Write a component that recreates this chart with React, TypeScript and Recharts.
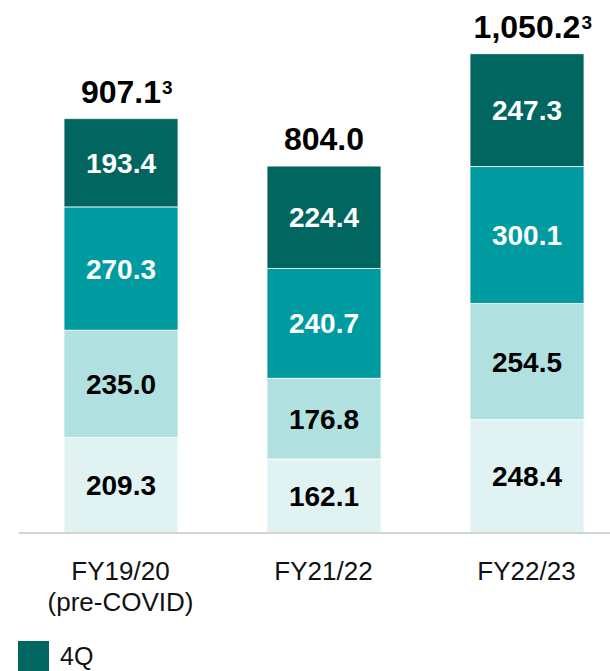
import React from "react";
import { BarChart, Bar, XAxis, YAxis, LabelList } from "recharts";

const categories = ["FY19/20|(pre-COVID)", "FY21/22", "FY22/23"];
const q1 = [209.3, 162.1, 248.4];
const q2 = [235.0, 176.8, 254.5];
const q3 = [270.3, 240.7, 300.1];
const q4 = [193.4, 224.4, 247.3];
const totals = ["907.1", "804.0", "1,050.2"];
const totalNotes = ["3", "", "3"];
const legendNames = ["4Q"];

const COLORS: Record<string, string> = {
  q1: "#E0F2F2",
  q2: "#B0E0E0",
  q3: "#009BA1",
  q4: "#00665F",
};
const LABEL_COLORS: Record<string, string> = {
  q1: "#000000",
  q2: "#000000",
  q3: "#ffffff",
  q4: "#ffffff",
};
const LEGEND_COLORS = [COLORS.q4];

const data = categories.map((c, i) => ({
  name: c,
  q1: q1[i],
  q2: q2[i],
  q3: q3[i],
  q4: q4[i],
}));

const FONT = "'Liberation Sans', Arial, Helvetica, sans-serif";

function textWidth(s: string, fs: number) {
  let w = 0;
  for (const ch of s) {
    if (ch === "," || ch === ".") w += 0.278;
    else w += 0.556;
  }
  return w * fs;
}

const makeValueLabel = (key: string) => (props: any) => {
  const { x, y, width, height, value } = props;
  const cx = Number(x) + Number(width) / 2;
  const cy = Number(y) + Number(height) / 2;
  return (
    <text
      x={cx}
      y={cy}
      dy={10}
      textAnchor="middle"
      fontFamily={FONT}
      fontWeight="bold"
      fontSize={28}
      fill={LABEL_COLORS[key]}
    >
      {Number(value).toFixed(1)}
    </text>
  );
};

const TotalLabel = (props: any) => {
  const { x, y, width, index } = props;
  const cx = Number(x) + Number(width) / 2;
  const by = Number(y) - 16;
  const t = totals[index];
  const note = totalNotes[index];
  const fs = 32;
  const half = textWidth(t, fs) / 2;
  return (
    <g>
      <text
        x={cx}
        y={by}
        textAnchor="middle"
        fontFamily={FONT}
        fontWeight="bold"
        fontSize={fs}
        fill="#000"
      >
        {t}
      </text>
      {note ? (
        <text
          x={cx + half + 1}
          y={by - 9}
          textAnchor="start"
          fontFamily={FONT}
          fontWeight="bold"
          fontSize={19}
          fill="#000"
        >
          {note}
        </text>
      ) : null}
    </g>
  );
};

const CategoryTick = (props: any) => {
  const { x, y, payload } = props;
  const lines = String(payload.value).split("|");
  return (
    <g>
      {lines.map((l, i) => (
        <text
          key={i}
          x={x}
          y={Number(y) + 39 + i * 31}
          textAnchor="middle"
          fontFamily={FONT}
          fontSize={26}
          fill="#111"
        >
          {l}
        </text>
      ))}
    </g>
  );
};

export default function App() {
  const keys = ["q1", "q2", "q3", "q4"];
  return (
    <div
      style={{
        position: "absolute",
        left: 0,
        top: 0,
        width: 610,
        height: 671,
        overflow: "hidden",
        background: "#fff",
      }}
    >
      <BarChart
        width={630}
        height={671}
        data={data}
        margin={{ top: 31, right: 2, left: 19, bottom: 78 }}
        barSize={114}
      >
        <YAxis hide domain={[0, 1100]} />
        <XAxis
          dataKey="name"
          height={60}
          axisLine={{ stroke: "#d4d4d4", strokeWidth: 2 }}
          tickLine={false}
          tick={<CategoryTick />}
          interval={0}
        />
        {keys.map((k) => (
          <Bar
            key={k}
            dataKey={k}
            stackId="a"
            fill={COLORS[k]}
            stroke="#ffffff"
            strokeWidth={0.8}
            isAnimationActive={false}
          >
            <LabelList dataKey={k} content={makeValueLabel(k)} />
            {k === "q4" ? <LabelList dataKey={k} content={<TotalLabel />} /> : null}
          </Bar>
        ))}
      </BarChart>
      {legendNames.map((n, i) => (
        <div
          key={n}
          style={{
            position: "absolute",
            left: 18,
            top: 641 + i * 44,
            height: 31,
            display: "flex",
            alignItems: "center",
            fontFamily: FONT,
            fontSize: 25,
            lineHeight: "31px",
            color: "#111",
          }}
        >
          <div
            style={{
              width: 31,
              height: 31,
              background: LEGEND_COLORS[i],
              marginRight: 11,
            }}
          />
          <span>{n}</span>
        </div>
      ))}
    </div>
  );
}
